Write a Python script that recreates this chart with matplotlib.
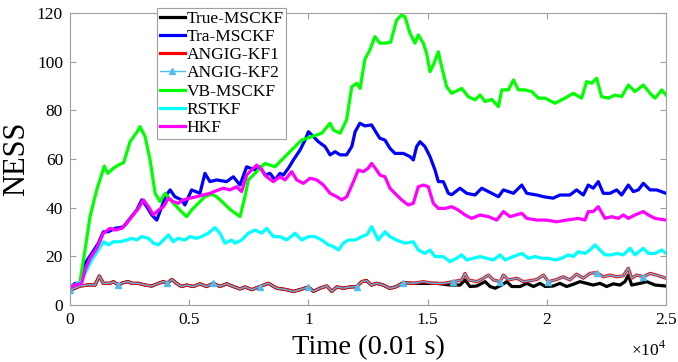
import matplotlib
matplotlib.use("Agg")
import matplotlib.pyplot as plt
import numpy as np

plt.rcParams['font.family'] = ['Liberation Serif', 'DejaVu Serif']
plt.rcParams['mathtext.fontset'] = 'custom'
plt.rcParams['mathtext.rm'] = 'Liberation Serif'

# ---- data (time in 0.01 s steps, NESS values) ----
true_t = [0, 420, 840, 1050, 1230, 1400, 1680, 1820, 2030, 2240, 2450, 2590, 2870, 3150, 3430, 3710,
          3920, 4060, 4270, 4470, 4680, 4890, 5170, 5450, 5730, 6010, 6290, 6570, 6850, 7130, 7340,
          7620, 7970, 8320, 8670, 9090, 9370, 9650, 10000, 10210, 10490, 10770, 10980, 11190, 11470,
          11750, 12030, 12240, 12440, 12650, 12860, 13140, 13420, 13700, 13980, 14400, 14680, 15380,
          15940, 16360, 16570, 16780, 17060, 17410, 17620, 17830, 18110, 18320, 18530, 18880, 19160,
          19440, 19720, 19930, 20270, 20550, 20830, 21110, 21390, 21670, 21950, 22230, 22510, 22790,
          23070, 23280, 23420, 23560, 23910, 24190, 24540, 25000]
true_y = [6, 7.8, 8.3, 8.2, 11.9, 8.9, 8.9, 9.6, 8.2, 9.2, 9.6, 8.9, 8.9, 8.2, 7.8, 8.9,
          9.6, 8.9, 10.5, 8.9, 7.6, 8.2, 7.6, 8.7, 7.6, 8.9, 7.6, 8.7, 7.6, 6.6, 7.4,
          6.3, 7.6, 8.9, 6.9, 6.3, 5.6, 6.3, 7.4, 5.6, 6.9, 7.8, 5.6, 7.4, 6.9,
          7.4, 7.6, 9.6, 10, 8.2, 8.9, 8.2, 6.8, 7.6, 9.2, 8.9, 8.9, 8.9,
          8.2, 8.2, 10.3, 7.6, 7.8, 9.6, 7.6, 6.9, 8.2, 9.6, 7.6, 7.6, 8.9,
          7.6, 8.9, 7.6, 7.8, 8.9, 7.6, 8.5, 9.6, 8.9, 8.2, 8.9, 7.6, 8.7,
          8.2, 9.6, 12.3, 8.2, 8.9, 9.6, 8.2, 7.8]

tra_t = [0, 210, 420, 630, 910, 1190, 1400, 1610, 1890, 2240, 2520, 2800, 3010, 3220, 3430, 3640,
         3850, 3990, 4200, 4400, 4680, 4820, 5100, 5450, 5660, 5870, 6150, 6570, 6850, 7130, 7410,
         7760, 7970, 8180, 8390, 8600, 8810, 8950, 9160, 9370, 9650, 9860, 10000, 10140, 10420,
         10700, 10910, 11120, 11330, 11600, 11820, 11960, 12160, 12370, 12650, 12860, 13000, 13210,
         13420, 13630, 13980, 14260, 14400, 14540, 14680, 14890, 15100, 15310, 15450, 15660, 15870,
         16010, 16360, 16640, 16990, 17270, 17550, 17970, 18180, 18600, 18950, 19160, 19580, 19860,
         20270, 20550, 20970, 21250, 21530, 21740, 21950, 22160, 22370, 22650, 22930, 23140, 23420,
         23630, 23840, 24050, 24330, 24610, 25000]
tra_y = [7, 8.9, 8.9, 17.1, 21.2, 25.4, 30.1, 30.1, 31.5, 32.1, 35.6, 39, 43.2, 40.4, 37, 34.9,
         40.4, 44.5, 47.3, 44.5, 43.2, 41.1, 47.3, 45.9, 54.1, 50.7, 51.4, 50.7, 52.7, 49.3, 56.8,
         55.5, 56.8, 53.4, 54.1, 51.4, 54.1, 53.4, 56.2, 59.6, 63.7, 67.8, 71.2, 69.9, 67.1,
         65.1, 61.7, 63, 61.7, 61.7, 65.1, 71.2, 74.7, 73.6, 74, 70.6, 68.5, 67.8,
         64.4, 62.3, 62.3, 61, 59.6, 65.1, 67.1, 65.1, 61, 55.5, 50.7, 50.7, 45.9,
         45.3, 48, 45.9, 45.2, 48, 46.6, 44.5, 47.3, 45.9, 49.3, 45.9, 45.2, 44.5,
         43.9, 45.2, 45.2, 47.3, 45.2, 49.3, 48, 50.7, 45.9, 45.9, 47.3, 45.2, 49.3,
         46.6, 47.3, 50, 47.3, 47.3, 45.9]

angig_t = [0, 420, 840, 1050, 1230, 1400, 1680, 1820, 2030, 2240, 2450, 2590, 2870, 3150, 3430, 3710,
           3920, 4060, 4270, 4470, 4680, 4890, 5170, 5450, 5730, 6010, 6290, 6570, 6850, 7130, 7340,
           7620, 7970, 8320, 8670, 9090, 9370, 9650, 10000, 10210, 10490, 10770, 10980, 11190, 11470,
           11750, 12030, 12240, 12440, 12650, 12860, 13140, 13420, 13700, 13980, 14400, 14820, 15240,
           15660, 16080, 16430, 16570, 16710, 17060, 17340, 17550, 17760, 18040, 18180, 18390, 18740,
           19020, 19300, 19580, 19860, 20070, 20410, 20690, 20970, 21250, 21530, 21810, 22090, 22370,
           22650, 22930, 23210, 23420, 23560, 23770, 24050, 24330, 24610, 25000]
angig1_y = [6, 7.8, 8.3, 8.2, 11.9, 8.9, 8.9, 9.6, 8.2, 9.2, 9.6, 8.9, 8.9, 8.2, 7.8, 8.9,
            9.6, 8.9, 10.5, 8.9, 7.6, 8.2, 7.6, 8.7, 7.6, 8.9, 7.6, 8.7, 7.6, 6.6, 7.4,
            6.3, 7.6, 8.9, 6.9, 6.3, 5.6, 6.3, 7.4, 5.6, 6.9, 7.8, 5.6, 7.4, 6.9,
            7.4, 7.6, 9.6, 10, 8.2, 8.9, 8.2, 6.8, 7.6, 9.2, 8.9, 9.6, 8.9,
            8.9, 9.6, 10.3, 13, 10.3, 9.6, 11, 12.3, 10.3, 9.6, 12.3, 10.3, 11,
            9.6, 10, 10.5, 12.3, 9.6, 10.5, 11.6, 10.3, 12.7, 11, 13, 13.3, 11.6,
            12.3, 11.6, 12, 15.1, 11, 12.3, 11.6, 13, 12.3, 11]
angig2_y = list(angig1_y)  # overlaps KF1 throughout

vb_t = [0, 420, 630, 840, 1120, 1440, 1580, 1820, 2030, 2250, 2520, 2800, 2940, 3150, 3360, 3570,
        3780, 3990, 4270, 4610, 4890, 5100, 5380, 5660, 5940, 6150, 6450, 6750, 7130, 7340, 7480,
        7900, 8180, 8600, 8880, 9440, 9720, 10140, 10560, 10910, 11050, 11330, 11600, 11820, 12030,
        12170, 12370, 12580, 12790, 13000, 13210, 13450, 13700, 13910, 14050, 14260, 14470, 14610,
        14820, 14960, 15100, 15240, 15450, 15590, 15800, 16010, 16430, 16710, 16990, 17200, 17410,
        17690, 17970, 18110, 18390, 18600, 18810, 19090, 19370, 19650, 19930, 20340, 20760, 21110,
        21460, 21670, 21880, 22090, 22300, 22580, 22860, 23140, 23420, 23700, 24050, 24330, 24540,
        24820, 25000]
vb_y = [7, 9.6, 22.6, 36.3, 47.3, 57.1, 54.1, 56.2, 57.5, 58.5, 67.1, 71, 73.3, 69.2, 59.6, 45.9,
        42.5, 45.9, 42.5, 39, 36.3, 39, 41.8, 44.5, 45.6, 44.5, 41.8, 39, 36.3, 44.5, 51.4,
        55.5, 58.2, 56.8, 59.6, 65.1, 67.8, 69.2, 70.6, 74.7, 71.9, 70.6, 76, 89.7, 91.1,
        89, 101, 104.8, 110.3, 107.6, 107.6, 108, 117.1, 119.2, 118.5, 111.7, 107.6, 111,
        107.6, 103.4, 95.9, 98.6, 104.1, 97.9, 89.7, 87, 89, 85.6, 84.3, 86.3, 83.6,
        84.5, 81.5, 88.4, 88.4, 92.5, 88.4, 88.4, 87.7, 85, 85, 82.9, 85, 87,
        85, 91.8, 91.1, 93.2, 85.6, 85, 86.3, 85.6, 90.4, 87.7, 90.4, 87, 85,
        88.4, 86.3]

rst_t = [0, 210, 490, 630, 910, 1190, 1400, 1610, 1820, 2100, 2380, 2590, 2800, 3010, 3290, 3500,
         3710, 3920, 4130, 4330, 4540, 4820, 5030, 5310, 5520, 5800, 6080, 6290, 6500, 6780, 6920,
         7200, 7480, 7760, 8040, 8250, 8530, 8810, 9090, 9440, 9720, 10000, 10280, 10560, 10840,
         11050, 11260, 11470, 11680, 11960, 12240, 12470, 12650, 12930, 13210, 13420, 13700, 14050,
         14400, 14610, 14890, 15100, 15310, 15660, 15940, 16220, 16430, 16640, 16920, 17200, 17480,
         17760, 18040, 18250, 18600, 18950, 19230, 19510, 19790, 20070, 20340, 20620, 20900, 21110,
         21320, 21600, 21810, 22020, 22230, 22440, 22720, 22930, 23210, 23490, 23700, 24050, 24260,
         24540, 24820, 25000]
rst_y = [7, 8.2, 9.6, 13, 18.5, 22.6, 26, 24.7, 26, 26, 26.7, 27.4, 26.7, 28.1, 27.4, 25.4,
         24.7, 26.7, 28.8, 26, 27.4, 26.7, 28.1, 27.4, 28.1, 29.5, 31.8, 29.5, 25.4, 26.7, 25.4,
         26.7, 29.5, 30.8, 29.5, 31.5, 28.1, 28.1, 26.7, 29.5, 26.7, 28.1, 28.1, 26.7, 24.7,
         24, 22.6, 25.4, 26.7, 26.7, 28.1, 29, 32.2, 26.7, 30.1, 28.1, 26.7, 25.4,
         26, 22.6, 21.2, 22.6, 19.9, 19.9, 17.8, 19.2, 20.6, 18.5, 19.2, 19.9, 19.2,
         18.5, 20.6, 18.5, 19.9, 21.2, 19.2, 19.9, 19.2, 19.2, 18.5, 19.2, 20.6, 19.9,
         21.9, 21.2, 22.6, 24.7, 22.6, 20.6, 20.6, 21.2, 20.6, 23.3, 20.6, 23.3, 21.2,
         21.2, 22.6, 21.2]

hkf_t = [0, 210, 490, 630, 840, 1120, 1400, 1680, 1890, 2170, 2380, 2590, 2870, 3080, 3290, 3500,
         3710, 3920, 4130, 4330, 4540, 4750, 5030, 5310, 5590, 5870, 6150, 6430, 6710, 6990, 7200,
         7410, 7620, 7830, 8040, 8250, 8530, 8810, 9020, 9300, 9510, 9790, 10070, 10350, 10630,
         10910, 11190, 11400, 11610, 11890, 12090, 12300, 12510, 12650, 12860, 13000, 13210, 13420,
         13630, 13910, 14190, 14400, 14610, 14820, 15030, 15240, 15450, 15730, 16010, 16290, 16570,
         16850, 17200, 17550, 17900, 18180, 18460, 18950, 19160, 19580, 20000, 20410, 20830, 21320,
         21600, 21740, 21950, 22160, 22440, 22720, 23000, 23210, 23420, 23700, 24050, 24260, 24540,
         25000]
hkf_y = [7, 8.2, 8.9, 14.4, 19.2, 23.3, 29.5, 31.5, 30.8, 31.5, 33.6, 36.3, 39.7, 43.2, 40.4, 37,
         39, 40.4, 43.9, 42.5, 41.8, 43.2, 43.9, 44.5, 45.2, 45.9, 47, 48, 47.3, 48.6, 46.6,
         53.4, 55.5, 57.5, 55.5, 52.7, 50.7, 52.7, 51.4, 54.8, 51.4, 50, 52.1, 51.4, 49.3,
         45.9, 44.5, 43.2, 44.5, 50.7, 55.5, 54.8, 56.2, 58.2, 55.5, 53.4, 52.7, 48,
         45.9, 43.2, 41.1, 41.8, 48.6, 49.3, 48.6, 41.8, 39.7, 39.7, 40.4, 39, 37,
         35.6, 37, 36.3, 34.9, 38.4, 36.3, 37.7, 35.6, 34.9, 34.9, 34.2, 34.9, 35.6,
         34.9, 38.4, 38.4, 40.4, 35.6, 36.3, 35.6, 37, 35.6, 37, 38.4, 37, 35.6,
         34.9]

xticks = [0, 5000, 10000, 15000, 20000, 25000]
xtick_labels = ['0', '0.5', '1', '1.5', '2', '2.5']
yticks = [0, 20, 40, 60, 80, 100, 120]

# ANGIG-KF2 markers roughly every 2000 steps
mark_idx = sorted(set(int(np.argmin(np.abs(np.array(angig_t) - m))) for m in range(0, 25001, 2000)))

fig = plt.figure(figsize=(6.78, 3.62), dpi=100)
ax = fig.add_axes([70 / 678, 1 - 305 / 362, 596 / 678, 292 / 362])

lw = 2.3
ax.plot(true_t, true_y, color='black', lw=lw, label='True-MSCKF')
ax.plot(tra_t, tra_y, color='#0000ff', lw=lw, label='Tra-MSCKF')
ax.plot(angig_t, angig1_y, color='#ff0000', lw=lw, label='ANGIG-KF1')
ax.plot(angig_t, angig2_y, color='#4dbeee', lw=1.0, marker='^', markersize=4,
        markevery=mark_idx, label='ANGIG-KF2')
ax.plot(vb_t, vb_y, color='#00ff00', lw=lw, label='VB-MSCKF')
ax.plot(rst_t, rst_y, color='#00ffff', lw=lw, label='RSTKF')
ax.plot(hkf_t, hkf_y, color='#ff00ff', lw=lw, label='HKF')

ax.set_xlim(0, 25000)
ax.set_ylim(0, 120)
ax.set_xticks(xticks)
ax.set_xticklabels(xtick_labels)
ax.set_yticks(yticks)
ax.tick_params(direction='in', length=4, width=0.8, color='#a0a0a0', labelsize=12.5,
               top=True, right=True, pad=5)
for s in ax.spines.values():
    s.set_color('#a0a0a0')
    s.set_linewidth(0.8)

ax.set_xlabel('Time (0.01 s)', fontsize=20.5, labelpad=5)
ax.set_ylabel('NESS', fontsize=22, labelpad=4)
fig.text(666 / 678, 1 - 356 / 362, r'$\times10^{4}$', fontsize=12.5, ha='right', va='baseline')

leg = ax.legend(loc='upper left', bbox_to_anchor=(157 / 678, 1 - 8 / 362),
                bbox_transform=fig.transFigure, fontsize=12.5, frameon=True, fancybox=False,
                borderaxespad=0, borderpad=0.15, labelspacing=0.12, handlelength=1.45,
                handletextpad=0.1)
leg.get_frame().set_edgecolor('#a0a0a0')
leg.get_frame().set_linewidth(0.8)
leg.get_frame().set_alpha(1)

fig.savefig('out.png', dpi=100)
